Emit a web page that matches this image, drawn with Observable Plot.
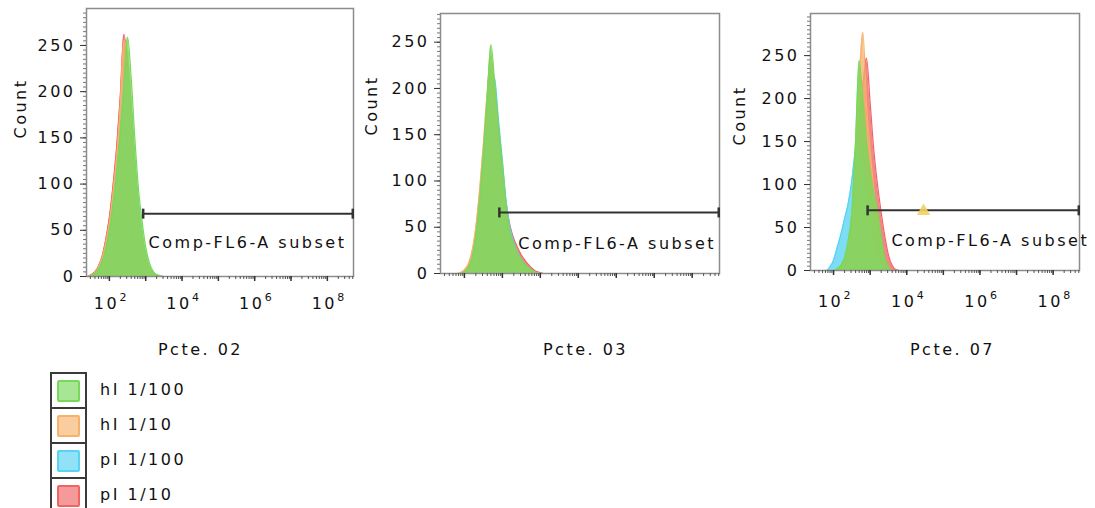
<!DOCTYPE html>
<html><head><meta charset="utf-8">
<script src="https://cdn.jsdelivr.net/npm/d3@7"></script>
<script src="https://cdn.jsdelivr.net/npm/@observablehq/plot@0.6"></script>
<style>
body{margin:0;background:#fff;}
#wrap{position:relative;width:1095px;height:508px;overflow:hidden;font-family:"DejaVu Sans",sans-serif;}
.panel{position:absolute;top:0;}
#legend{position:absolute;left:50px;top:372px;}
.row{position:relative;height:35px;display:flex;align-items:center;}
.box{box-sizing:border-box;width:37px;height:35px;border:2px solid #3a3a3a;border-bottom:none;display:flex;align-items:center;justify-content:center;}
.sw{box-sizing:border-box;width:23px;height:22px;border:2px solid;border-radius:2px;}
.lab{margin-left:13px;font-size:16px;letter-spacing:2.5px;color:#111;}
</style></head><body><div id="wrap"></div>
<script>
// series (legend order)
const seriesNames = ["hI 1/100", "hI 1/10", "pI 1/100", "pI 1/10"];
const seriesColors = ["#78d85a", "#f5b26b", "#58d3f2", "#f06464"];
const drawOrder = [3, 2, 1, 0]; // red, cyan, orange, green on top

// histogram bin positions (log10 of Comp-FL6-A)
const binExponents = [1.4,1.5,1.6,1.7,1.8,1.9,2.0,2.1,2.2,2.3,2.4,2.5,2.6,2.7,2.8,2.9,3.0,3.1,3.2,3.3,3.4,3.5,3.6,3.7,3.8,3.9,4.0,4.1,4.2,8.7];

// Pcte. 02
const p02_hI100 = [0,1,3,8,16,30,50,78,112,155,205,259,215,150,95,60,32,15,6,2,1,0,0,0,0,0,0,0,0,0];
const p02_hI10  = [0,1,4,10,20,36,58,90,130,185,255,238,180,118,74,42,22,10,4,1,0,0,0,0,0,0,0,0,0,0];
const p02_pI100 = [0,1,3,8,17,32,54,84,120,165,215,222,185,128,80,46,24,10,4,1,0,0,0,0,0,0,0,0,0,0];
const p02_pI10  = [0,2,5,11,22,40,64,98,140,195,262,230,170,112,70,40,20,9,4,1,0,0,0,0,0,0,0,0,0,0];
// Pcte. 03
const p03_hI100 = [0,0,0,0,0,0,2,6,16,40,78,130,190,247,205,160,120,75,45,32,22,15,10,6,3,1,0,0,0,0];
const p03_hI10  = [0,0,0,0,0,1,4,10,24,50,90,140,195,235,195,140,100,64,42,30,20,13,8,4,2,1,0,0,0,0];
const p03_pI100 = [0,0,0,0,0,0,2,6,16,38,75,125,180,218,210,165,122,78,50,34,23,15,9,5,2,1,0,0,0,0];
const p03_pI10  = [0,0,0,0,0,0,3,8,20,45,82,128,178,220,200,152,112,76,52,38,28,20,14,9,5,2,1,0,0,0];
// Pcte. 07
const p07_hI100 = [0,0,0,0,0,0,0,2,6,15,35,68,150,244,200,150,115,90,70,40,15,4,0,0,0,0,0,0,0,0];
const p07_hI10  = [0,0,0,0,0,0,0,0,3,10,28,60,130,220,277,195,140,95,60,30,10,3,0,0,0,0,0,0,0,0];
const p07_pI100 = [0,0,0,0,0,4,12,27,42,60,78,105,140,150,120,90,65,42,25,12,4,1,0,0,0,0,0,0,0,0];
const p07_pI10  = [0,0,0,0,0,0,0,0,2,8,22,50,105,175,215,247,195,140,100,68,40,18,6,1,0,0,0,0,0,0];

const panelTitles = ["Pcte. 02", "Pcte. 03", "Pcte. 07"];
const panelSeries = [
  [p02_hI100, p02_hI10, p02_pI100, p02_pI10],
  [p03_hI100, p03_hI10, p03_pI100, p03_pI10],
  [p07_hI100, p07_hI10, p07_pI100, p07_pI10]
];
const gateLabel = "Comp-FL6-A subset";
const gateStartExp = [2.93, 2.92, 2.93];
const gateEndExp = [8.7, 8.7, 8.7];
const gateCount = [68, 66, 70];
const gateLabelExp = [3.08, 3.42, 3.58];
const gateLabelCount = [36, 32, 35];
const markerExp = [null, null, 4.46];
const markerCount = [null, null, 69];

// axis ticks
const yTickValues = [0, 50, 100, 150, 200, 250];
const xLabelExps = [2, 4, 6, 8];
const xLabelBase = "10";
const xDomainExp = [1.37, 8.72];

// layout (pixels)
const layout = [
  {left: 0,   mL: 86, mR: 12, mT: 8,  frameBottom: 276, yTop: 290, xLabels: true,  labelDy: 27.5, titleDx: -19.5, countDx: -66, countDy: -4},
  {left: 365, mL: 75, mR: 11, mT: 13, frameBottom: 273, yTop: 281, xLabels: false, labelDy: 0,    titleDx: 5.5,   countDx: -69, countDy: -8},
  {left: 730, mL: 80, mR: 16, mT: 13, frameBottom: 270, yTop: 299, xLabels: true,  labelDy: 31.5, titleDx: 7.5,   countDx: -71, countDy: 3.5}
];
const H = 370;
const ink = "#111";

const gateSymbol = {draw(ctx, size) { const h = Math.sqrt(size / Math.PI); ctx.moveTo(0, -h); ctx.lineTo(0, h); }};

const wrap = d3.select("#wrap");

panelTitles.forEach((title, p) => {
  const L = layout[p];
  const rows = [];
  drawOrder.forEach(s => {
    panelSeries[p][s].forEach((c, i) => rows.push({series: s, x: Math.pow(10, binExponents[i]), y: c}));
  });
  const minorX = [];
  for (let e = 1; e <= 8; e++) for (let k = 1; k <= 9; k++) {
    const v = k * Math.pow(10, e);
    if (v >= Math.pow(10, xDomainExp[0]) && v <= Math.pow(10, xDomainExp[1])) minorX.push(v);
  }
  const majorX = [2,3,4,5,6,7,8].map(e => Math.pow(10, e));
  const minorY = d3.range(0, L.yTop, 5);
  const marks = [];
  drawOrder.forEach(s => {
    const d = rows.filter(r => r.series === s);
    marks.push(Plot.areaY(d, {x: "x", y: "y", fill: seriesColors[s], fillOpacity: s === 0 ? 0.82 : 0.78, curve: "monotone-x"}));
    marks.push(Plot.lineY(d, {x: "x", y: "y", stroke: seriesColors[s], strokeWidth: 1.2, curve: "monotone-x"}));
  });
  marks.push(
    Plot.frame({stroke: "#8c8c8c", strokeWidth: 1.5}),
    Plot.axisY(minorY, {tickSize: 3, tickFormat: () => "", stroke: "#777", label: null}),
    Plot.axisY(yTickValues, {tickSize: 6, tickPadding: 5, stroke: "#333", fill: ink, label: null}),
    Plot.axisX(minorX, {tickSize: 3, tickFormat: () => "", stroke: "#555", label: null}),
    Plot.axisX(majorX, {tickSize: 5, tickFormat: () => "", stroke: "#333", label: null, strokeWidth: 1.5})
  );
  if (L.xLabels) {
    marks.push(
      Plot.text(xLabelExps, {x: e => Math.pow(10, e), frameAnchor: "bottom", text: () => xLabelBase, lineAnchor: "middle", textAnchor: "middle", dx: -3, dy: L.labelDy, fill: ink}),
      Plot.text(xLabelExps, {x: e => Math.pow(10, e), frameAnchor: "bottom", text: e => String(e), lineAnchor: "middle", textAnchor: "start", dx: 10, dy: L.labelDy - 6.5, fontSize: 11, fill: ink})
    );
  }
  const gate = [{x1: Math.pow(10, gateStartExp[p]), x2: Math.pow(10, gateEndExp[p]), y: gateCount[p]}];
  marks.push(
    Plot.ruleY(gate, {x1: "x1", x2: "x2", y: "y", stroke: "#333", strokeWidth: 2}),
    Plot.dot([{x: gate[0].x1, y: gateCount[p]}, {x: gate[0].x2, y: gateCount[p]}], {x: "x", y: "y", symbol: gateSymbol, r: 5, stroke: "#333", fill: "none", strokeWidth: 2.5}),
    Plot.text([{x: Math.pow(10, gateLabelExp[p]), y: gateLabelCount[p]}], {x: "x", y: "y", text: () => gateLabel, textAnchor: "start", lineAnchor: "middle", fill: ink}),
    Plot.text(["Count"], {frameAnchor: "left", text: d => d, rotate: -90, dx: L.countDx, dy: L.countDy, fill: ink}),
    Plot.text([title], {frameAnchor: "bottom", text: d => d, lineAnchor: "middle", dy: 73 + (276 - L.frameBottom), dx: L.titleDx, fill: ink})
  );
  if (markerExp[p] != null) {
    marks.push(Plot.dot([{x: Math.pow(10, markerExp[p]), y: markerCount[p]}], {x: "x", y: "y", symbol: "triangle", r: 5, fill: "#f3cf5e", fillOpacity: 0.9}));
  }
  const chart = Plot.plot({
    width: 365, height: H,
    marginLeft: L.mL, marginRight: L.mR, marginTop: L.mT, marginBottom: H - L.frameBottom,
    style: {fontFamily: "'DejaVu Sans', sans-serif", fontSize: "16px", letterSpacing: "2.5px", color: ink, overflow: "visible", background: "transparent"},
    x: {type: "log", domain: xDomainExp.map(e => Math.pow(10, e)), axis: null},
    y: {domain: [0, L.yTop], axis: null},
    marks
  });
  wrap.append("div").attr("class", "panel").style("left", L.left + "px").node().appendChild(chart);
});

// legend
const legend = wrap.append("div").attr("id", "legend");
seriesNames.forEach((name, i) => {
  const row = legend.append("div").attr("class", "row");
  const c = d3.color(seriesColors[i]);
  const light = d3.interpolateRgb(seriesColors[i], "#ffffff")(0.35);
  row.append("div").attr("class", "box").append("div").attr("class", "sw")
    .style("background", light).style("border-color", c.formatHex());
  row.append("span").attr("class", "lab").text(name);
});
</script>
</body></html>
